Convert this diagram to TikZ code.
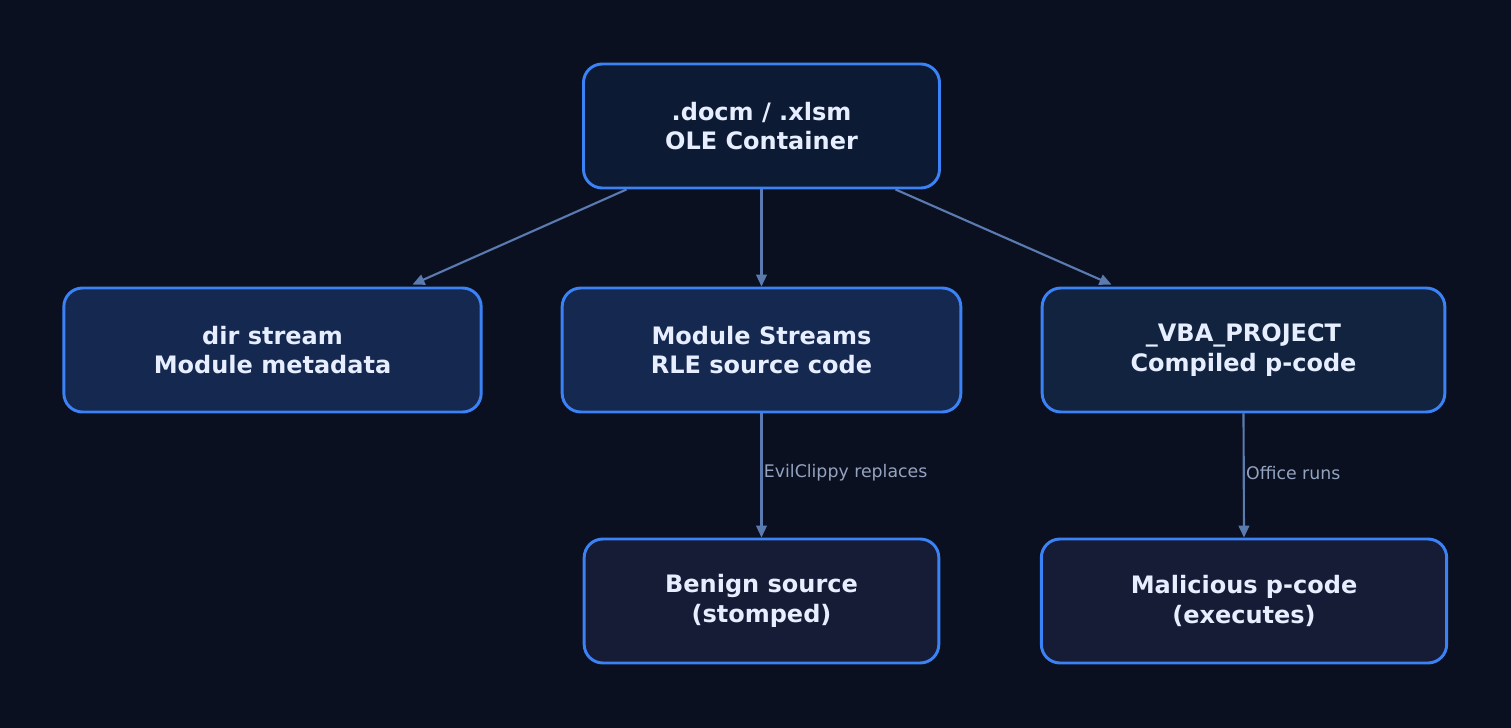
\documentclass[tikz,border=0pt]{standalone}
\usepackage{fontspec}
\setmainfont{DejaVu Sans}
\usetikzlibrary{arrows.meta,calc}
\definecolor{bg}{HTML}{0A1020}
\definecolor{bd}{HTML}{3B82F6}
\definecolor{ar}{HTML}{5B7BB0}
\definecolor{lb}{HTML}{94A3C0}
\definecolor{tx}{HTML}{E6EEFF}
\definecolor{fa}{HTML}{0D1A33}
\definecolor{fb}{HTML}{142850}
\definecolor{fc}{HTML}{12233F}
\definecolor{fd}{HTML}{171C36}
\begin{document}
\begin{tikzpicture}[x=0.75pt,y=-0.75pt,
  box/.style={draw=bd,line width=2.2pt,rounded corners=14pt,minimum height=93pt,
    align=center,text=tx,font=\fontsize{18}{22}\selectfont\bfseries,inner sep=0pt},
  conn/.style={draw=ar,line width=1.6pt,-{Triangle[length=9pt,width=8pt]}},
  lab/.style={text=lb,font=\fontsize{13}{15}\selectfont,anchor=west,inner sep=0pt}]
\fill[bg] (0,0) rectangle (1511,728);
\node[box,fill=fa,minimum width=267pt] (top) at (761.5,126) {.docm / .xlsm\\OLE Container};
\node[box,fill=fb,minimum width=313pt] (dir) at (272.5,350) {dir stream\\Module metadata};
\node[box,fill=fb,minimum width=299pt] (mod) at (761.5,350) {Module Streams\\RLE source code};
\node[box,fill=fc,minimum width=302pt] (vba) at (1243.5,350) {\_VBA\_PROJECT\\Compiled p-code};
\node[box,fill=fd,minimum width=266pt] (ben) at (761.5,601) {Benign source\\(stomped)};
\node[box,fill=fd,minimum width=304pt] (mal) at (1244,601) {Malicious p-code\\(executes)};
\draw[conn] ($(top.south)+(-135,0)$) -- ($(dir.north)+(140,-2)$);
\draw[conn] (top.south) -- (mod.north);
\draw[conn] ($(top.south)+(134,0)$) -- ($(vba.north)+(-132,-2)$);
\draw[conn] (mod.south) -- node[lab,pos=0.48,xshift=1pt]{EvilClippy replaces} (ben.north);
\draw[conn] (vba.south) -- node[lab,pos=0.48,xshift=1pt]{Office runs} (mal.north);
\end{tikzpicture}
\end{document}
